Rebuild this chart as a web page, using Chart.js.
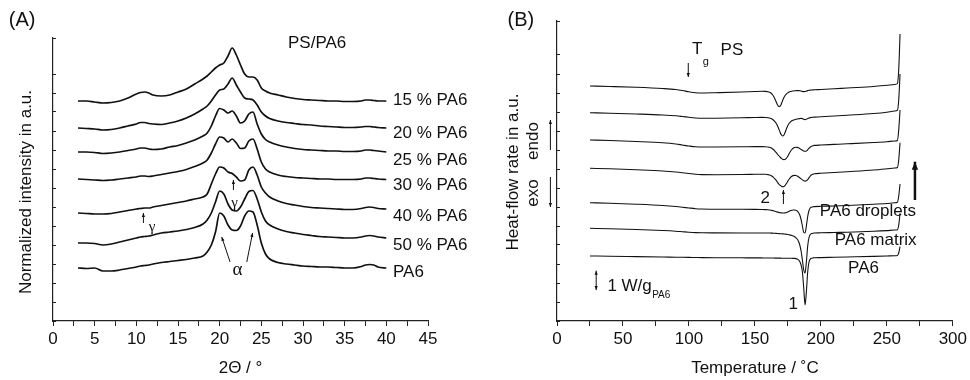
<!DOCTYPE html>
<html>
<head>
<meta charset="utf-8">
<script src="https://cdn.jsdelivr.net/npm/chart.js@4.4.1/dist/chart.umd.min.js"></script>
<style>
  body { margin: 0; background: #fff; }
  #wrap { position: relative; width: 970px; height: 380px; }
  canvas { position: absolute; top: 0; }
</style>
</head>
<body>
<div id="wrap">
  <canvas id="xrd" width="480" height="380" style="left:0"></canvas>
  <canvas id="dsc" width="490" height="380" style="left:480px"></canvas>
</div>
<script>
const sans = '"Liberation Sans", Arial, Helvetica, sans-serif';
const serif = '"Liberation Serif", "Times New Roman", serif';

// (A) WAXS patterns, stacked, normalized intensity in a.u.
const twoTheta = [3, 4, 5, 6, 7, 8, 9, 10, 10.5, 11, 11.5, 12, 13, 14, 15, 16, 17, 18, 18.5, 19, 19.5, 20, 20.5, 21, 21.5, 22, 22.5, 23, 23.5, 24, 24.5, 25, 25.5, 26, 27, 28, 29, 30, 31, 32, 33, 34, 35, 36, 37, 37.5, 38, 38.5, 39, 40];
const int15 = [220, 220, 219, 218, 218.5, 220, 223, 227, 228.5, 229, 228, 226, 225, 226, 229, 232, 237, 242, 245, 249, 253, 256, 258, 265, 273, 266, 256, 247, 244, 244, 241, 233, 230, 228, 226, 224, 222.5, 221.5, 221, 220.5, 220, 220, 219.5, 219.5, 220, 221, 221, 220.5, 220, 220];
const int20 = [193, 192.5, 192, 191, 191.5, 193, 195, 197, 198.5, 198.5, 197.5, 197, 196.5, 198, 200, 203, 207, 212, 215, 220, 226, 231, 232, 237, 243, 236, 229, 223, 222, 221, 216, 209, 205, 202.5, 200, 198.5, 197.5, 196.5, 196, 195, 194.5, 194, 193.5, 193.5, 194, 194.5, 194.5, 194, 193.5, 193];
const int25 = [169, 169, 168.5, 167.5, 168, 169, 170.5, 172, 173, 173, 172, 171.5, 172, 174, 175.5, 178, 181, 185, 188, 195, 205, 212.5, 211, 208, 210, 205, 198, 200, 207, 209, 197, 187, 181.5, 179, 176, 174, 172.5, 171.5, 171, 170.5, 170, 170, 169.5, 169.5, 170, 171, 171, 170.5, 170, 169];
const int30 = [142, 141.5, 141, 140.5, 141, 142, 143, 144, 145, 145, 144.5, 145, 146.5, 148, 149.5, 151.5, 154.5, 158, 161, 168, 177, 184, 183, 179, 182, 178, 172.5, 173, 180, 182, 172, 159, 152, 149, 146, 144.5, 143.5, 143, 142.5, 142, 142, 141.5, 141.5, 141.5, 142, 143, 143, 142.5, 142, 141.5];
const int40 = [108, 107.5, 107, 107, 107.5, 109, 110.5, 112, 112.5, 113, 113, 114, 115.5, 117, 118.5, 120, 122, 124, 127, 137, 147, 154, 153, 149, 147.5, 144, 140, 141, 151, 154, 146, 134, 128, 124, 120, 117.5, 116, 114.5, 113.5, 113, 112.5, 112, 111.5, 111.5, 112.5, 113.5, 114, 113.5, 112.5, 112];
const int50 = [78, 78, 77.5, 76, 77, 79, 81, 83, 84, 84.5, 85, 86, 88, 89, 90, 91.5, 93.5, 97, 101, 108, 119, 130, 127, 117, 111, 110, 114, 122, 129.5, 130.5, 122, 109, 100, 96, 92, 89.5, 88, 86.5, 85.5, 84.5, 84, 83.5, 83, 83, 84, 85, 85.5, 85, 84, 83];
const intPA6 = [53, 52.5, 53, 50, 50, 51, 52.5, 54, 55, 55.5, 56, 57, 58.5, 59.5, 60.5, 61.5, 63, 65, 69, 76, 89, 108, 105, 96, 91, 90.5, 95, 105, 110, 109, 96, 78, 67, 62, 58.5, 57, 56, 55, 54.5, 54, 54, 53.5, 53, 53, 54.5, 56, 56.5, 56, 54, 53];
const xrdLabels = ['15 % PA6', '20 % PA6', '25 % PA6', '30 % PA6', '40 % PA6', '50 % PA6', 'PA6'];

// (B) DSC heating traces, heat-flow rate in a.u. (endo up)
const temp = [25, 40, 60, 80, 90, 95, 100, 105, 110, 120, 140, 150, 155, 158, 160, 161, 162, 163, 164, 165, 166, 167, 168, 169, 170, 171, 172, 173, 174, 175, 176, 177, 178, 179, 180, 181, 182, 183, 184, 185, 186, 187, 188, 189, 190, 191, 192, 193, 194, 195, 200, 210, 220, 240, 250, 256, 258, 259, 260];
const hf1 = [235, 234.5, 233.7, 232.5, 231.5, 230.5, 229.2, 228.2, 228, 228.3, 229, 229.5, 229.7, 229.6, 229.2, 228.7, 228, 226.8, 225, 222.5, 219.5, 216.5, 214.5, 214.7, 217, 220.5, 223.5, 225.7, 227.2, 228.2, 229, 229.5, 229.8, 230, 230.2, 230.3, 230.4, 230.4, 230.3, 230, 229.6, 229.4, 229.5, 229.9, 230.4, 230.7, 230.9, 231, 231.1, 231.2, 231.5, 232.2, 233, 234.5, 235.7, 236.5, 237.5, 251, 287];
const hf2 = [208.3, 207.8, 207, 206, 205.2, 204.5, 203.7, 203, 202.7, 202.8, 203.2, 203.5, 203.6, 203.5, 203.3, 203, 202.6, 202, 201, 199.7, 198, 195.5, 192.5, 189, 186.2, 185, 186, 189, 192.5, 195.5, 197.7, 199.2, 200.2, 200.8, 201.3, 201.7, 202, 202.2, 202.4, 202.6, 202.4, 201.8, 201.4, 201.7, 202.4, 203, 203.4, 203.6, 203.8, 203.9, 204.2, 205, 205.8, 207.5, 208.8, 210, 210.7, 221, 247];
const hf3 = [181, 180.5, 179.5, 178.2, 177, 176, 175, 174.2, 174, 174, 174.2, 174.4, 174.4, 174.3, 174, 173.7, 173.2, 172.5, 171.5, 170.2, 168.7, 167, 165.5, 164, 162.7, 161.7, 161.4, 161.7, 163, 165, 167.5, 169.7, 171.5, 172.7, 173.4, 173.7, 173.6, 173.2, 172.5, 171.6, 170.7, 170, 169.7, 170.1, 171.2, 172.7, 174, 174.8, 175.3, 175.6, 176, 176.6, 177.2, 178.5, 179.3, 180, 180.5, 191, 211];
const hf4 = [152.7, 152.2, 151.2, 150, 149, 148.3, 147.5, 146.7, 146.4, 146.3, 146.5, 146.7, 146.8, 146.7, 146.4, 146, 145.5, 144.7, 143.7, 142.4, 140.8, 139, 137.2, 135.8, 134.8, 134.3, 134.5, 135.7, 137.7, 140, 142, 143.7, 144.8, 145.4, 145.6, 145.5, 145, 144.2, 143.2, 142.1, 141.1, 140.3, 139.9, 140.2, 141.4, 143.2, 145, 146.2, 146.8, 147.2, 147.7, 148.5, 149.3, 151, 152.2, 153, 153.5, 161, 178.3];
const hf5 = [118.3, 117.8, 116.8, 115.5, 114.5, 113.8, 113, 112.3, 112, 111.8, 111.7, 111.6, 111.5, 111.4, 111.2, 111, 110.8, 110.5, 110.2, 109.8, 109.4, 109, 108.6, 108.3, 108.1, 108, 108, 108.2, 108.5, 109.1, 109.8, 110.4, 110.8, 111, 111, 110.7, 110, 108.5, 106, 101.5, 95, 88.5, 88, 95, 104.5, 110.5, 113, 113.8, 114.2, 114.4, 114.7, 115, 115.5, 116.7, 117.5, 118.2, 118.7, 125, 137];
const hf6 = [92.7, 92.3, 91.5, 90.5, 89.8, 89.3, 88.8, 88.4, 88.2, 88.1, 88, 88, 88, 88, 88, 88, 87.9, 87.9, 87.8, 87.7, 87.6, 87.5, 87.4, 87.3, 87.2, 87.1, 87, 86.9, 86.7, 86.5, 86.2, 85.9, 85.5, 85, 84.3, 83.4, 82, 79.8, 76, 70, 61, 51, 48, 59, 75, 83.5, 86.5, 87.4, 87.8, 88, 88.2, 88.5, 88.8, 89.7, 90.4, 91, 91.3, 96, 107.7];
const hf7 = [65, 64.8, 64.4, 64, 63.8, 63.7, 63.6, 63.5, 63.4, 63.3, 63.2, 63.1, 63.1, 63, 63, 63, 63, 63, 63, 62.9, 62.9, 62.9, 62.9, 62.9, 62.8, 62.8, 62.8, 62.8, 62.8, 62.7, 62.7, 62.7, 62.7, 62.6, 62.6, 62.4, 62, 61.2, 59.5, 56, 49, 33, 16, 29, 49, 59, 62, 62.8, 63.1, 63.2, 63.4, 63.7, 64, 64.6, 65, 65.3, 65.5, 68, 74.3];

Chart.defaults.font.family = sans;
Chart.defaults.font.size = 17;
Chart.defaults.color = '#111';

// draws arrows and free text at data coordinates
function drawArrow(ctx, x1, y1, x2, y2, w, h, both) {
    const head = (tx, ty, fx, fy) => {
        const a = Math.atan2(ty - fy, tx - fx);
        const c = Math.cos(a), s = Math.sin(a);
        ctx.beginPath();
        ctx.moveTo(tx, ty);
        ctx.lineTo(tx - h * c + h * 0.4 * s, ty - h * s - h * 0.4 * c);
        ctx.lineTo(tx - h * c - h * 0.4 * s, ty - h * s + h * 0.4 * c);
        ctx.closePath();
        ctx.fill();
    };
    ctx.lineWidth = w;
    ctx.beginPath();
    ctx.moveTo(x1, y1);
    ctx.lineTo(x2, y2);
    ctx.stroke();
    head(x2, y2, x1, y1);
    if (both) head(x1, y1, x2, y2);
}

const notesPlugin = {
    id: 'notes',
    afterDatasetsDraw(chart, args, opts) {
        const ctx = chart.ctx;
        const px = v => chart.scales.x.getPixelForValue(v);
        const py = v => chart.scales.y.getPixelForValue(v);
        ctx.save();
        ctx.fillStyle = '#111';
        ctx.strokeStyle = '#111';
        for (const n of opts.items) {
            if (n.k === 'arrow') {
                drawArrow(ctx, px(n.x1), py(n.y1), px(n.x2), py(n.y2), n.w || 1, n.head || 4, n.both);
                continue;
            }
            ctx.save();
            ctx.font = `${n.size || 17}px ${n.serif ? serif : sans}`;
            ctx.textBaseline = 'middle';
            ctx.textAlign = n.align || 'left';
            ctx.translate(px(n.x), py(n.y));
            if (n.k === 'vtext') {
                ctx.rotate(-Math.PI / 2);
                ctx.textAlign = 'center';
            }
            ctx.fillText(n.s, 0, 0);
            ctx.restore();
        }
        ctx.restore();
    }
};

function makeOptions(cfg) {
    return {
        responsive: false,
        animation: false,
        devicePixelRatio: 1,
        layout: { padding: cfg.pad },
        plugins: {
            legend: { display: false },
            tooltip: { enabled: false },
            notes: { items: cfg.items }
        },
        elements: {
            point: { radius: 0 },
            line: { borderColor: '#111', borderWidth: cfg.lw, cubicInterpolationMode: 'monotone', fill: false }
        },
        scales: {
            x: {
                type: 'linear', min: 0, max: cfg.xMax,
                afterFit: s => { s.height = 59; },
                border: { color: '#222', width: 1.2 },
                grid: { drawOnChartArea: false, tickLength: 5, color: '#222' },
                ticks: {
                    stepSize: cfg.xStep, autoSkip: false, maxRotation: 0, padding: 3,
                    callback: v => (v % cfg.labelEvery === 0 ? String(v) : '')
                },
                title: { display: true, text: cfg.xTitle, padding: { top: 0, bottom: 1 } }
            },
            y: {
                type: 'linear', min: 0, max: cfg.yMax,
                afterFit: s => { s.width = cfg.yWidth; },
                border: { color: '#222', width: 1.2 },
                grid: { drawOnChartArea: false, tickLength: -3, color: '#222' },
                ticks: { display: false, stepSize: 19 }
            }
        }
    };
}

const xrdSeries = [int15, int20, int25, int30, int40, int50, intPA6];
const xrdLabelAt = [221, 188, 161, 136, 105, 76, 49];
const xrdNotes = [
    { k: 'text', x: -3.7, y: 301, s: '(A)', size: 20, align: 'center' },
    { k: 'vtext', x: -3.2, y: 129, s: 'Normalized intensity in a.u.' },
    { k: 'text', x: 31.7, y: 278, s: 'PS/PA6', align: 'center' },
    { k: 'arrow', x1: 10.85, y1: 98, x2: 10.85, y2: 108 },
    { k: 'text', x: 11.9, y: 94, s: 'γ', serif: true, size: 15, align: 'center' },
    { k: 'arrow', x1: 21.65, y1: 131, x2: 21.65, y2: 141 },
    { k: 'text', x: 21.8, y: 118, s: 'γ', serif: true, size: 15, align: 'center' },
    { k: 'text', x: 22.15, y: 51, s: 'α', serif: true, size: 19, align: 'center' },
    { k: 'arrow', x1: 21.25, y1: 59, x2: 20.25, y2: 84 },
    { k: 'arrow', x1: 23.25, y1: 59, x2: 23.95, y2: 88 }
].concat(xrdLabels.map((s, i) => ({ k: 'text', x: 40.8, y: xrdLabelAt[i], s })));

new Chart(document.getElementById('xrd'), {
    type: 'line',
    data: {
        datasets: xrdSeries.map((s, i) => ({
            label: xrdLabels[i],
            data: twoTheta.map((t, j) => ({ x: t, y: s[j] }))
        }))
    },
    options: makeOptions({
        pad: { left: 12, top: 38, right: 52, bottom: 0 }, yWidth: 41, yMax: 283,
        xMax: 45, xStep: 2.5, labelEvery: 5, xTitle: '2Θ / °', lw: 1.7, items: xrdNotes
    }),
    plugins: [notesPlugin]
});

const dscSeries = [hf1, hf2, hf3, hf4, hf5, hf6, hf7];
const dscNotes = [
    { k: 'text', x: -27.4, y: 301, s: '(B)', size: 20, align: 'center' },
    { k: 'vtext', x: -33, y: 149, s: 'Heat-flow rate in a.u.' },
    { k: 'vtext', x: -18.3, y: 180, s: 'endo' },
    { k: 'vtext', x: -18.3, y: 128, s: 'exo' },
    { k: 'arrow', x1: -5, y1: 171, x2: -5, y2: 201 },
    { k: 'arrow', x1: -5, y1: 144, x2: -5, y2: 114 },
    { k: 'text', x: 102.3, y: 272, s: 'T' },
    { k: 'text', x: 110.5, y: 259, s: 'g', size: 11 },
    { k: 'text', x: 124, y: 271, s: 'PS' },
    { k: 'arrow', x1: 99.5, y1: 258, x2: 99.5, y2: 244 },
    { k: 'text', x: 157.8, y: 122.7, s: '2', align: 'center' },
    { k: 'arrow', x1: 171.6, y1: 117, x2: 171.6, y2: 131 },
    { k: 'text', x: 199.2, y: 109.3, s: 'PA6 droplets' },
    { k: 'text', x: 210.5, y: 81, s: 'PA6 matrix' },
    { k: 'text', x: 220.6, y: 52.7, s: 'PA6' },
    { k: 'text', x: 179.1, y: 17, s: '1', align: 'center' },
    { k: 'arrow', x1: 29.7, y1: 50.3, x2: 29.7, y2: 31, both: true },
    { k: 'text', x: 38.2, y: 35, s: '1 W/g' },
    { k: 'text', x: 72.1, y: 26, s: 'PA6', size: 10 },
    { k: 'arrow', x1: 271.3, y1: 121, x2: 271.3, y2: 159.3, w: 2.5, head: 8 }
];

new Chart(document.getElementById('dsc'), {
    type: 'line',
    data: {
        datasets: dscSeries.map((s, i) => ({
            label: 'trace ' + (i + 1),
            data: temp.map((t, j) => ({ x: t, y: s[j] }))
        }))
    },
    options: makeOptions({
        pad: { left: 0, top: 21, right: 15, bottom: 0 }, yWidth: 77, yMax: 300,
        xMax: 300, xStep: 25, labelEvery: 50, xTitle: 'Temperature / ˚C', lw: 1.1, items: dscNotes
    }),
    plugins: [notesPlugin]
});
</script>
</body>
</html>
